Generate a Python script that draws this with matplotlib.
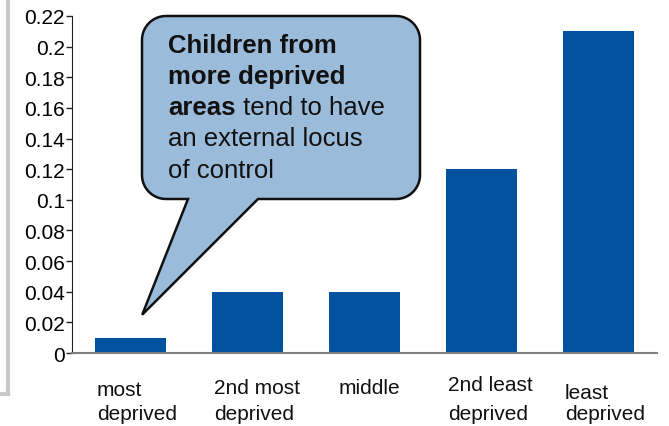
import matplotlib
matplotlib.use("Agg")
import matplotlib.pyplot as plt
import numpy as np
from matplotlib.path import Path
from matplotlib.patches import PathPatch
from matplotlib.lines import Line2D
from matplotlib.transforms import IdentityTransform

plt.rcParams["font.family"] = ["Liberation Sans", "DejaVu Sans"]

# data
categories = [["most", "deprived"], ["2nd most", "deprived"], ["middle"],
              ["2nd least", "deprived"], ["least", "deprived"]]
values = [0.01, 0.04, 0.04, 0.12, 0.21]
yticks = [0, 0.02, 0.04, 0.06, 0.08, 0.1, 0.12, 0.14, 0.16, 0.18, 0.2, 0.22]
ytick_labels = ["0", "0.02", "0.04", "0.06", "0.08", "0.1", "0.12", "0.14",
                "0.16", "0.18", "0.2", "0.22"]
callout_lines = [[("Children from", "bold")],
                 [("more deprived", "bold")],
                 [("areas", "bold"), (" tend to have", "normal")],
                 [("an external locus", "normal")],
                 [("of control", "normal")]]

W, H = 669, 427
fig = plt.figure(figsize=(W / 100, H / 100), dpi=100)
ax = fig.add_axes([72 / W, 1 - 354 / H, 585 / W, 337 / H])

x = np.arange(len(values))
bar_w = 0.61
ax.bar(x, values, width=bar_w, color="#00529f")
ax.set_xlim(-0.5, 4.5)
ax.set_ylim(0, 0.22)
ax.set_yticks(yticks)
ax.set_yticklabels(ytick_labels, fontsize=15)
ax.set_xticks([])
ax.tick_params(axis="y", length=4, width=1, pad=1, color="#222222")
for s in ["top", "right"]:
    ax.spines[s].set_visible(False)
ax.spines["left"].set_color("#222222")
ax.spines["bottom"].set_color("#7f7f7f")
ax.spines["bottom"].set_linewidth(1.5)

# category labels (left aligned under bars, two lines)
first_base = [396, 394, 394, 391, 399]
x_shift = [2, 2, 10, 2, 2]
for i, lines in enumerate(categories):
    xd = ax.transData.transform((x[i] - bar_w / 2, 0))[0] + x_shift[i]
    for j, t in enumerate(lines):
        yb = first_base[i] if j == 0 else 420
        fig.text(xd / W, 1 - yb / H, t, fontsize=15, ha="left",
                 va="baseline", color="#111111")

# grey frame at left
fig.add_artist(Line2D([8 / W, 8 / W], [1.0, 1 - 395 / H],
                      transform=fig.transFigure, color="#c8c8c8", lw=3))
fig.add_artist(Line2D([0, 8 / W], [1 - 395 / H, 1 - 395 / H],
                      transform=fig.transFigure, color="#c8c8c8", lw=3))

# speech bubble
x0, x1 = 142, 420
yt, yb = H - 17, H - 200
r = 24
tip = ax.transData.transform((0.1, 0.025))
verts = [(x0 + r, yb), (188, yb), (tip[0], tip[1]), (258, yb), (x1 - r, yb)]
def arc(cx, cy, a0, a1):
    t = np.radians(np.linspace(a0, a1, 20))
    return list(zip(cx + r * np.cos(t), cy + r * np.sin(t)))
verts += arc(x1 - r, yb + r, -90, 0)
verts += arc(x1 - r, yt - r, 0, 90)
verts += arc(x0 + r, yt - r, 90, 180)
verts += arc(x0 + r, yb + r, 180, 270)
verts.append(verts[0])
codes = [Path.MOVETO] + [Path.LINETO] * (len(verts) - 2) + [Path.CLOSEPOLY]
bubble = PathPatch(Path(verts, codes), facecolor="#9bbbdb", edgecolor="#111111",
                   lw=1.8, transform=IdentityTransform(), zorder=5)
fig.add_artist(bubble)

renderer = fig.canvas.get_renderer()
baselines = [53, 84, 115, 146, 178]
for line, base in zip(callout_lines, baselines):
    xp = 168
    for txt, wt in line:
        t = fig.text(xp / W, 1 - base / H, txt, fontsize=18.5, fontweight=wt,
                     ha="left", va="baseline", color="#111111", zorder=6)
        xp = t.get_window_extent(renderer).x1

fig.savefig("out.png", dpi=100)
